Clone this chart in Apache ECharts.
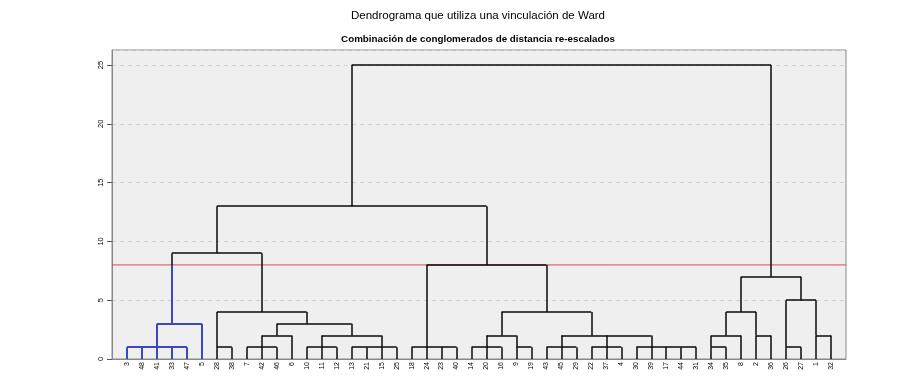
<!DOCTYPE html>
<html>
<head>
<meta charset="utf-8">
<script src="https://cdn.jsdelivr.net/npm/echarts@6/dist/echarts.min.js"></script>
<style>
html,body{margin:0;padding:0;background:#fff;}
#chart{width:907px;height:391px;}
</style>
</head>
<body>
<div id="chart"></div>
<script>
// Leaf labels in dendrogram order (position 0..47)
const leaves = ['3','48','41','33','47','5','28','38','7','42','46','6','10','11','12','13','21','15','25','18','24','23','40','14','20','16','9','19','43','45','29','22','37','4','30','39','17','44','31','34','35','8','2','36','26','27','1','32'];

// Merges: rescaled height, horizontal position of the merged node (leaf-position units), members
const mergeHeight = [1,3,1,1,2,1,1,2,3,4,9,1,1,1,2,1,1,1,2,4,8,13,1,2,2,4,1,2,5,7,25];
const mergePos    = [2,3,6,9,10,13,17,15,12,9,6,20,24,26,25,29,32,35,31,28,24,15,39,40,42,41,44,46,45,43,29];
const mergeKids = [
  [0,1,2,3,4], ['m0',5], [6,7], [8,9,10], ['m3',11], [12,13,14], [15,16,17,18],
  ['m5','m6'], ['m4','m7'], ['m2','m8'], ['m1','m9'],
  [19,20,21,22], [23,24,25], [26,27], ['m12','m13'], [28,29,30], [31,32,33],
  [34,35,36,37,38], ['m15','m16','m17'], ['m14','m18'], ['m11','m19'], ['m10','m20'],
  [39,40], ['m22',41], [42,43], ['m23','m24'], [44,45], [46,47], ['m26','m27'],
  ['m25','m28'], ['m21','m29']
];
const blueMerges = [0,1];
const cutHeight = 8;
const yTicks = [0,5,10,15,20,25];

const BLUE = '#3d47c2', BLACK = '#0a0a0a', RED = '#e04848';

function nodeInfo(k){
  if (typeof k === 'string'){ const i = +k.slice(1); return {x: mergePos[i], h: mergeHeight[i], blue: blueMerges.includes(i)}; }
  return {x: k, h: 0, blue: blueMerges.some(m => mergeKids[m].includes(k)) };
}

const segs = [];
mergeHeight.forEach((h, i) => {
  const isBlue = blueMerges.includes(i);
  const kids = mergeKids[i].map(nodeInfo);
  const xs = kids.map(k => k.x);
  const c = isBlue ? BLUE : BLACK;
  segs.push({coords: [[Math.min(...xs), h],[Math.max(...xs), h]], lineStyle: {color: c, width: isBlue ? 2 : 1.5, opacity: 1}});
  kids.forEach(k => {
    if (k.blue && !isBlue && h > cutHeight) {
      segs.push({coords: [[k.x, k.h],[k.x, cutHeight]], lineStyle: {color: BLUE, width: 2, opacity: 1}});
      segs.push({coords: [[k.x, cutHeight],[k.x, h]], lineStyle: {color: BLACK, width: 1.5, opacity: 1}});
    } else {
      const cc = (k.blue || isBlue) ? BLUE : BLACK;
      segs.push({coords: [[k.x, k.h],[k.x, h]], lineStyle: {color: cc, width: cc === BLUE ? 2 : 1.5, opacity: 1}});
    }
  });
});

const chart = echarts.init(document.getElementById('chart'));
chart.setOption({
  animation: false,
  backgroundColor: '#ffffff',
  title: [
    {text: 'Dendrograma que utiliza una vinculación de Ward', left: 473, top: 5, textAlign: 'center',
     textStyle: {fontFamily: 'Liberation Sans', fontSize: 11.5, fontWeight: 'normal', color: '#000'}},
    {text: 'Combinación de conglomerados de distancia re-escalados', left: 473, top: 29, textAlign: 'center',
     textStyle: {fontFamily: 'Liberation Sans', fontSize: 9.8, fontWeight: 'bold', color: '#000'}}
  ],
  grid: {left: 112, right: 61, top: 50, bottom: 32, show: true, backgroundColor: '#efefef', borderColor: '#8a8a8a', borderWidth: 1},
  xAxis: {
    type: 'value', min: -1, max: leaves.length, interval: 1,
    axisLine: {show: true, onZero: false, lineStyle: {color: '#888'}},
    axisTick: {show: false},
    splitLine: {show: false},
    axisLabel: {rotate: 90, fontSize: 7, fontFamily: 'Liberation Sans', color: '#000', margin: 3,
      formatter: v => (v >= 0 && v < leaves.length) ? leaves[v] : ''}
  },
  yAxis: {
    type: 'value', min: 0, max: 26.28, interval: 5,
    axisLine: {show: true, onZero: false, lineStyle: {color: '#888'}},
    axisTick: {show: true, length: 5, lineStyle: {color: '#555'}},
    splitLine: {show: true, lineStyle: {color: '#d2d2d2', type: [4,4]}},
    axisLabel: {rotate: 90, fontSize: 7.5, fontFamily: 'Liberation Sans', color: '#000', margin: 7, showMaxLabel: false,
      formatter: v => yTicks.includes(v) ? String(v) : ''}
  },
  series: [
    {type: 'line', z: 2, silent: true, symbol: 'none', color: RED,
     data: [[-1, cutHeight],[leaves.length, cutHeight]],
     lineStyle: {color: RED, width: 1, opacity: 1}},
    {type: 'lines', coordinateSystem: 'cartesian2d', polyline: false, z: 3, silent: true,
     data: segs, lineStyle: {opacity: 1}}
  ]
});
</script>
</body>
</html>
